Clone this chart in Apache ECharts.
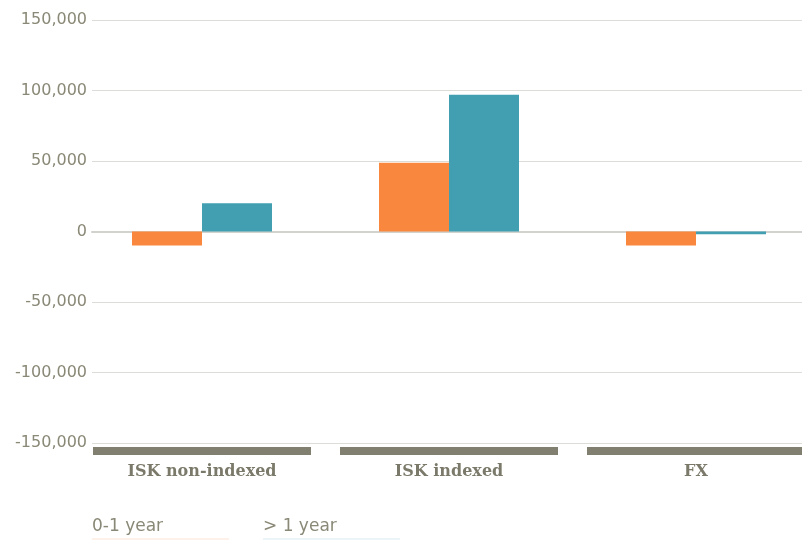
<!DOCTYPE html>
<html><head><meta charset="utf-8">
<script src="https://cdn.jsdelivr.net/npm/echarts@6/dist/echarts.min.js"></script>
<style>html,body{margin:0;padding:0;background:#fff}#c{width:802px;height:540px}</style>
</head><body><div id="c"></div>
<script>
const categories = ['ISK non-indexed', 'ISK indexed', 'FX'];
const seriesNames = ['0-1 year', '> 1 year'];
const shortTerm = [-10000, 48800, -10000];
const longTerm = [20000, 97000, -2000];
const yTicks = { min: -150000, max: 150000, interval: 50000 };
const bandValues = [1, 1, 1];

const textGray = '#8a8876';
const labelGray = '#7b7a6a';
const orange = '#f9873d';
const teal = '#419fb1';

const chart = echarts.init(document.getElementById('c'));
chart.setOption({
  animation: false,
  grid: [
    { left: 92, right: 0, top: 20, bottom: 97 },
    { left: 202, right: 106, top: 20, bottom: 97 },
    { left: 202, right: 106, top: 447, height: 8 }
  ],
  xAxis: [
    { gridIndex: 0, type: 'category', data: categories, axisLabel: { show: false }, axisTick: { show: false },
      axisLine: { show: true, onZero: true, lineStyle: { color: '#d2d2ce', width: 2 } } },
    { gridIndex: 1, type: 'category', data: categories, boundaryGap: false, axisTick: { show: false }, axisLine: { show: false },
      splitLine: { show: false },
      axisLabel: { margin: 21, color: labelGray, fontFamily: 'DejaVu Serif', fontWeight: 'bold', fontSize: 16 } },
    { gridIndex: 2, type: 'category', data: categories, boundaryGap: false, show: false }
  ],
  yAxis: [
    { gridIndex: 0, type: 'value', min: yTicks.min, max: yTicks.max, interval: yTicks.interval,
      axisLine: { show: false }, axisTick: { show: false },
      splitLine: { lineStyle: { color: '#dcdcd8', width: 1 } },
      axisLabel: { margin: 5, color: textGray, fontFamily: 'DejaVu Sans', fontSize: 16,
        formatter: v => v.toLocaleString('en-US') } },
    { gridIndex: 1, type: 'value', min: yTicks.min, max: yTicks.max, interval: yTicks.interval, show: false },
    { gridIndex: 2, type: 'value', min: 0, max: 1, show: false }
  ],
  legend: {
    left: 82, top: 513, itemWidth: 0, itemHeight: 0, itemGap: 29,
    data: seriesNames,
    formatter: name => '{t|' + name + '}\n' + (name === seriesNames[0] ? '{a|}' : '{b|}'),
    textStyle: {
      rich: {
        t: { color: textGray, fontFamily: 'DejaVu Sans', fontSize: 17, lineHeight: 24, width: 137 },
        a: { width: 137, height: 1, backgroundColor: '#fde3d3' },
        b: { width: 137, height: 1, backgroundColor: '#d8ebf0' }
      }
    }
  },
  series: [
    { name: seriesNames[0], type: 'bar', xAxisIndex: 1, yAxisIndex: 1, data: shortTerm, barWidth: 70, barGap: '0%',
      clip: false, itemStyle: { color: orange } },
    { name: seriesNames[1], type: 'bar', xAxisIndex: 1, yAxisIndex: 1, data: longTerm, barWidth: 70, barGap: '0%',
      clip: false, itemStyle: { color: teal } },
    { type: 'bar', xAxisIndex: 2, yAxisIndex: 2, data: bandValues, barWidth: 218, silent: true,
      clip: false, itemStyle: { color: '#807f70' } }
  ]
});
</script></body></html>
